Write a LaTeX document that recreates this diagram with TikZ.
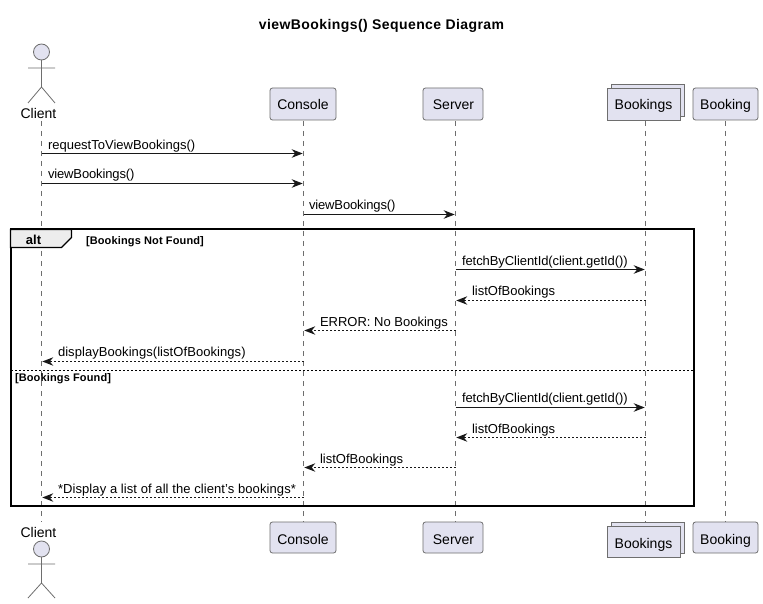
\documentclass[tikz,border=0pt]{standalone}
\usepackage{fontspec}
\setmainfont{Liberation Sans}
\usetikzlibrary{arrows.meta}
\definecolor{partfill}{HTML}{E2E2F0}
\definecolor{partline}{HTML}{6E6E6E}
\definecolor{ink}{HTML}{181818}
\newcommand{\spaced}[1]{\addfontfeature{LetterSpace=#1}}
\tikzset{
  x=1pt,y=-1pt,
  txt/.style={inner sep=0pt,outer sep=0pt,font=\fontsize{13}{15}\selectfont,text=black},
  part/.style={draw=partline,fill=partfill,line width=0.8pt,rounded corners=2.5pt,minimum height=32pt,inner sep=0pt,outer sep=0pt,font=\fontsize{14}{16}\selectfont,text=black,text height=13pt,text depth=1pt},
  partb/.style={part,minimum height=31pt,text height=13.5pt,text depth=0.5pt},
  coll/.style={rounded corners=0pt},
  life/.style={draw=partline,line width=0.6pt,dash pattern=on 5pt off 5pt},
  figure/.style={draw=partline,line width=0.8pt},
  msg/.style={draw=ink,line width=0.9pt,shorten >=0.8pt,-{Stealth[length=11pt,width=8.5pt,inset=3.5pt,fill=ink]}},
  ret/.style={msg,dash pattern=on 2pt off 2pt,-{Stealth[length=11pt,width=8.5pt,inset=3.5pt,fill=ink,line width=0pt,sep=0pt]}},
  guard/.style={inner sep=0pt,outer sep=0pt,font=\fontsize{11}{13}\selectfont\bfseries\spaced{1.3},text=black},
  lbl/.style={txt,anchor=base west},
}
\begin{document}
\begin{tikzpicture}
\useasboundingbox (0,0) rectangle (763,604);
\fill[white] (0,0) rectangle (763,604);
\node[inner sep=0,font=\fontsize{14}{16}\selectfont\bfseries\spaced{3},anchor=base] (title) at (381.5,30) {viewBookings() Sequence Diagram};
% lifeline anchors
\coordinate (clientT) at (41.5,121); \coordinate (clientB) at (41.5,522);
\coordinate (consoleT) at (303.5,121); \coordinate (consoleB) at (303.5,522);
\coordinate (serverT) at (455.5,121); \coordinate (serverB) at (455.5,522);
\coordinate (bookingsT) at (645.5,121); \coordinate (bookingsB) at (645.5,522);
\coordinate (bookingT) at (725.5,121); \coordinate (bookingB) at (725.5,522);
\foreach \p in {client,console,server,bookings,booking}{\draw[life] (\p T) -- (\p B);}
% actors
\draw[figure,fill=partfill] (41.5,52) circle (8);
\draw[figure] (41.5,60) -- (41.5,87) (28,68) -- (55,68) (28,103) -- (41.5,87) -- (55,103);
\node[txt,font=\fontsize{14}{16}\selectfont,anchor=base] (clientTop) at (38.5,118.5) {Client};
\node[txt,font=\fontsize{14}{16}\selectfont,anchor=base] (clientBot) at (38.5,537.5) {Client};
\draw[figure,fill=partfill] (41.5,549) circle (8);
\draw[figure] (41.5,557) -- (41.5,583) (28,564) -- (55,564) (28,598) -- (41.5,583) -- (55,598);
% participants
\node[part,minimum width=66pt] (consoleTop) at (303,104) {Console};
\node[part,minimum width=60pt] (serverTop) at (453,104) {\hspace{1pt}Server};
\node[part,coll,minimum width=73pt] (bookingsBack) at (647.5,100) {};
\node[part,coll,minimum width=73pt] (bookingsTop) at (643.5,104) {Bookings};
\node[part,minimum width=65pt] (bookingTop) at (725.5,104) {Booking};
\node[partb,minimum width=66pt] (consoleBot) at (303,537.5) {Console};
\node[partb,minimum width=60pt] (serverBot) at (453,537.5) {\hspace{1pt}Server};
\node[partb,coll,minimum width=73pt] (bookingsBackB) at (647.5,537.5) {};
\node[partb,coll,minimum width=73pt] (bookingsBot) at (643.5,541.5) {Bookings};
\node[partb,minimum width=65pt] (bookingBot) at (725.5,537.5) {Booking};
% alt frame
\draw[draw=black,line width=2pt] (10.5,229.5) rectangle (693.5,506);
\draw[draw=black,line width=1.3pt,fill=black!7] (10.5,229.5) -- (71.5,229.5) -- (71.5,237.5) -- (61.5,247.5) -- (10.5,247.5) -- cycle;
\node[guard,font=\fontsize{13}{15}\selectfont\bfseries,anchor=base] (alt) at (33.5,244.5) {alt};
\node[guard,anchor=base west] (g1) at (86,244) {[Bookings Not Found]};
\node[guard,anchor=base west] (g2) at (15,381) {[Bookings Found]};
\draw[black,line width=0.8pt,dash pattern=on 2pt off 2pt] (11,370.5) -- (693,370.5);
% rows
\foreach \n/\y in {1/153.5,2/183.5,3/214.5,4/269.5,5/300.5,6/330.5,7/361.5,8/407.5,9/437.5,10/467.5,11/497.5}{\coordinate (r\n) at (0,\y);}
\draw[msg] (clientT |- r1) -- (consoleT |- r1);
\draw[msg] (clientT |- r2) -- (consoleT |- r2);
\draw[msg] (consoleT |- r3) -- (serverT |- r3);
\draw[msg] (serverT |- r4) -- (bookingsT |- r4);
\draw[ret] (bookingsT |- r5) -- (serverT |- r5);
\draw[ret] (serverT |- r6) -- (consoleT |- r6);
\draw[ret] (consoleT |- r7) -- (clientT |- r7);
\draw[msg] (serverT |- r8) -- (bookingsT |- r8);
\draw[ret] (bookingsT |- r9) -- (serverT |- r9);
\draw[ret] (serverT |- r10) -- (consoleT |- r10);
\draw[ret] (consoleT |- r11) -- (clientT |- r11);
% labels
\node[lbl] (m1) at (48,149.5) {requestToViewBookings()};
\node[lbl] (m2) at (48,179) {\spaced{-1}viewBookings()};
\node[lbl] (m3) at (309,209.5) {\spaced{-1}viewBookings()};
\node[lbl] (m4) at (462,265.5) {\spaced{-0.5}fetchByClientId(client.getId())};
\node[lbl] (m5) at (472,295) {listOfBookings};
\node[lbl] (m6) at (320,326.5) {ERROR: No Bookings};
\node[lbl] (m7) at (58,356) {\spaced{0.5}displayBookings(listOfBookings)};
\node[lbl] (m8) at (462,402) {\spaced{-0.5}fetchByClientId(client.getId())};
\node[lbl] (m9) at (472,433) {listOfBookings};
\node[lbl] (m10) at (320,463) {listOfBookings};
\node[lbl] (m11) at (58,493) {\spaced{0.7}*Display a list of all the client's bookings*};
\end{tikzpicture}
\end{document}
